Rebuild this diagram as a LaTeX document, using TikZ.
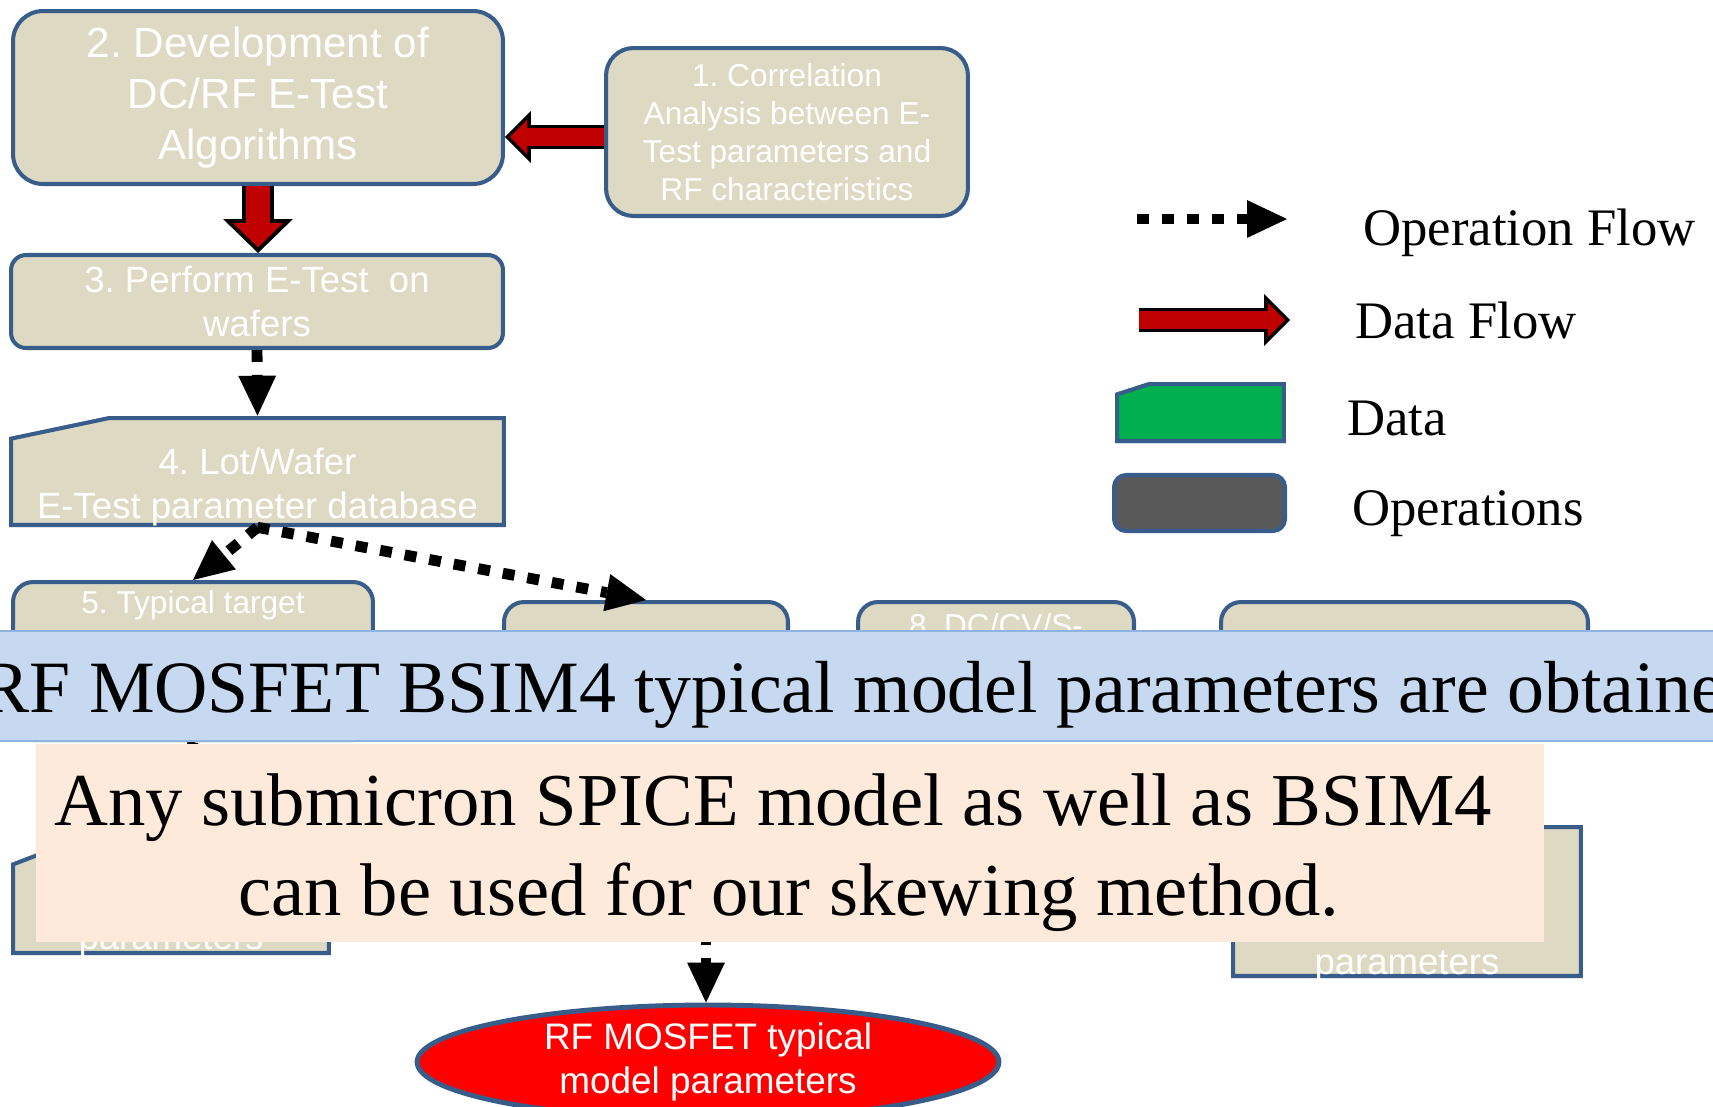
\documentclass[tikz,border=0pt]{standalone}
\usepackage{fontspec}
\setmainfont{Liberation Sans}
\newfontfamily\timesfont{Liberation Serif}
\usetikzlibrary{arrows.meta,shapes.geometric}
\frenchspacing

\definecolor{boxfill}{HTML}{DDD9C3}
\definecolor{boxline}{HTML}{385D8A}
\definecolor{flowred}{HTML}{C00000}
\definecolor{bannerfill}{HTML}{C6D9F0}
\definecolor{bannerline}{HTML}{8EB4E3}
\definecolor{notefill}{HTML}{FDEADA}
\definecolor{resultred}{HTML}{FF0000}
\definecolor{datagreen}{HTML}{00B050}
\definecolor{opgray}{HTML}{595959}

\tikzset{
  opbox/.style={rectangle, rounded corners=#1, draw=boxline, line width=2.3pt, fill=boxfill, text=white, align=center, inner sep=0pt},
  opbox/.default=0.4cm,
  datablock/.style n args={3}{rectangle, inner sep=0pt, path picture={
      \clip (path picture bounding box.south west)
        -- ([yshift=-#2]path picture bounding box.north west)
        -- ([xshift=#1]path picture bounding box.north west)
        -- (path picture bounding box.north east)
        -- (path picture bounding box.south east) -- cycle;
      \draw[draw=boxline, line width=4.6pt, fill=#3] (path picture bounding box.south west)
        -- ([yshift=-#2]path picture bounding box.north west)
        -- ([xshift=#1]path picture bounding box.north west)
        -- (path picture bounding box.north east)
        -- (path picture bounding box.south east) -- cycle;}},
  boxtext/.style={text=white, align=center, inner sep=0pt},
  legendtext/.style={anchor=base west, inner sep=0pt, font=\timesfont\fontsize{30}{36}\selectfont},
  result/.style={ellipse, draw=boxline, line width=2.8pt, fill=resultred, text=white, align=center, inner sep=0pt, font=\fontsize{21}{25.4}\selectfont},
  banner/.style={rectangle, draw=bannerline, line width=1.1pt, fill=bannerfill},
  note/.style={rectangle, fill=notefill, draw=none},
  opflow/.style={draw=black, line width=6.2pt, dash pattern=on 6.8pt off 7.4pt, -{Triangle[length=22.7pt, width=21.5pt, line width=0pt]}},
  dataflow/.style={draw=black, line width=14.2pt, -{Triangle[length=14.7pt, width=29.5pt, line width=0pt]},
    postaction={draw=flowred, line width=10.2pt, shorten >=2.8pt, -{Triangle[length=9.9pt, width=19.9pt, line width=0pt]}}},
  bigflow/.style={draw=black, line width=18.7pt, -{Triangle[length=19.3pt, width=39.7pt, line width=0pt]},
    postaction={draw=flowred, line width=14.2pt, shorten >=3.2pt, -{Triangle[length=13.8pt, width=28.5pt, line width=0pt]}}}
}

\begin{document}
\begin{tikzpicture}[x=0.02cm, y=-0.02cm]
  \useasboundingbox (0,0) rectangle (1713,1106);
  \clip (0,0) rectangle (1713,1106);

  % flow boxes
  \node[opbox=0.6cm, minimum width=9.8cm, minimum height=3.46cm, font=\fontsize{24}{28.8}\selectfont] (devalg) at (258,97.5) {2. Development of\\DC/RF E-Test\\Algorithms};
  \node[opbox=0.55cm, minimum width=7.24cm, minimum height=3.36cm, font=\fontsize{18}{21.7}\selectfont] (corr) at (787,132) {1. Correlation\\Analysis between E-\\Test parameters and\\RF characteristics};
  \node[opbox=0.3cm, minimum width=9.84cm, minimum height=1.86cm, font=\fontsize{20.8}{25.4}\selectfont] (etest) at (257,301.5) {3. Perform E-Test\ \ on\\wafers};
  \node[datablock={2cm}{0.42cm}{boxfill}, minimum width=9.94cm, minimum height=2.22cm] (lotdb) at (257.5,471.5) {};
  \node[boxtext, font=\fontsize{20.8}{25.4}\selectfont] (lotdbtxt) at (257.5,487) {4. Lot/Wafer\\E-Test parameter database};

  \node[opbox, minimum width=7.2cm, minimum height=3.16cm] (typtarget) at (193,661) {};
  \node[boxtext, anchor=base, font=\fontsize{18}{21.6}\selectfont] (typtargettxt) at (193,613) {5. Typical target};
  \node[opbox, minimum width=5.68cm, minimum height=2.64cm] (opsix) at (646,668) {};
  \node[opbox, minimum width=5.52cm, minimum height=2.64cm] (dccv) at (996,668) {};
  \node[boxtext, anchor=base, font=\fontsize{18}{21.6}\selectfont] (dccvtxt) at (996,636) {8. DC/CV/S-};
  \node[opbox, minimum width=7.34cm, minimum height=2.64cm] (opnine) at (1404.5,668) {};

  \node[datablock={1.2cm}{0.46cm}{boxfill}, minimum width=6.4cm, minimum height=2.3cm] (typparams) at (171,897.5) {};
  \node[boxtext, anchor=base, font=\fontsize{20.8}{25.4}\selectfont] (typparamstxt) at (171,949) {parameters};
  \node[datablock={1.2cm}{0.46cm}{boxfill}, minimum width=7.04cm, minimum height=3.06cm] (skewparams) at (1407,901.5) {};
  \node[boxtext, anchor=base, font=\fontsize{20.8}{25.4}\selectfont] (skewparamstxt) at (1407,974) {parameters};

  \node[result, minimum width=11.64cm, minimum height=2.28cm] (result) at (708,1062) {RF MOSFET typical\\model parameters};

  % data flow and operation flow
  \coordinate (corrout) at ([yshift=-0.1cm]corr.west);
  \draw[dataflow] (corrout) -- (corrout -| devalg.east);
  \draw[bigflow] (devalg.south) -- (devalg.south |- etest.north);
  \draw[opflow] (etest.south) -- (lotdb.north);
  \draw[opflow] (lotdb.south) -- (typtarget.north);
  \draw[opflow] (lotdb.south) -- (opsix.north);
  \draw[opflow] (typtarget.south) -- (typparams.north);
  \coordinate (resin) at (706,908);
  \draw[opflow] (resin) -- (resin |- result.north);

  % overlays
  \node[banner, minimum width=35.4cm, minimum height=2.2cm] (banner) at (856.5,686) {};
  \node[anchor=base west, inner sep=0pt, font=\timesfont\fontsize{42}{50}\selectfont] (bannertxt) at (-20,712) {RF MOSFET BSIM4 typical model parameters are obtained};
  \node[note, minimum width=30.16cm, minimum height=3.97cm] (note) at (790,842.75) {};
  \node[inner sep=0pt, align=center, font=\timesfont\fontsize{42.5}{51}\selectfont] (notetxt) at (789,852.5) {Any submicron SPICE model as well as BSIM4\hspace*{0.64cm}\\can be used for our skewing method.};

  % legend
  \coordinate (opkeystart) at (1137,219);
  \coordinate (opkeyend) at (1287,219);
  \draw[opflow] (opkeystart) -- (opkeyend);
  \node[legendtext] (opkeytxt) at (1363,245) {Operation Flow};
  \coordinate (datakeystart) at (1139,320);
  \coordinate (datakeyend) at (1290,320);
  \draw[dataflow] (datakeystart) -- (datakeyend);
  \node[legendtext] (datakeytxt) at (1355,338) {Data Flow};
  \node[datablock={0.68cm}{0.22cm}{datagreen}, minimum width=3.42cm, minimum height=1.22cm] (datakey) at (1200.5,412.5) {};
  \node[legendtext] (datakeylbl) at (1347,435) {Data};
  \node[opbox=0.24cm, fill=opgray, minimum width=3.42cm, minimum height=1.12cm] (opskey) at (1199.5,503) {};
  \node[legendtext] (opskeylbl) at (1352,525) {Operations};
\end{tikzpicture}
\end{document}
